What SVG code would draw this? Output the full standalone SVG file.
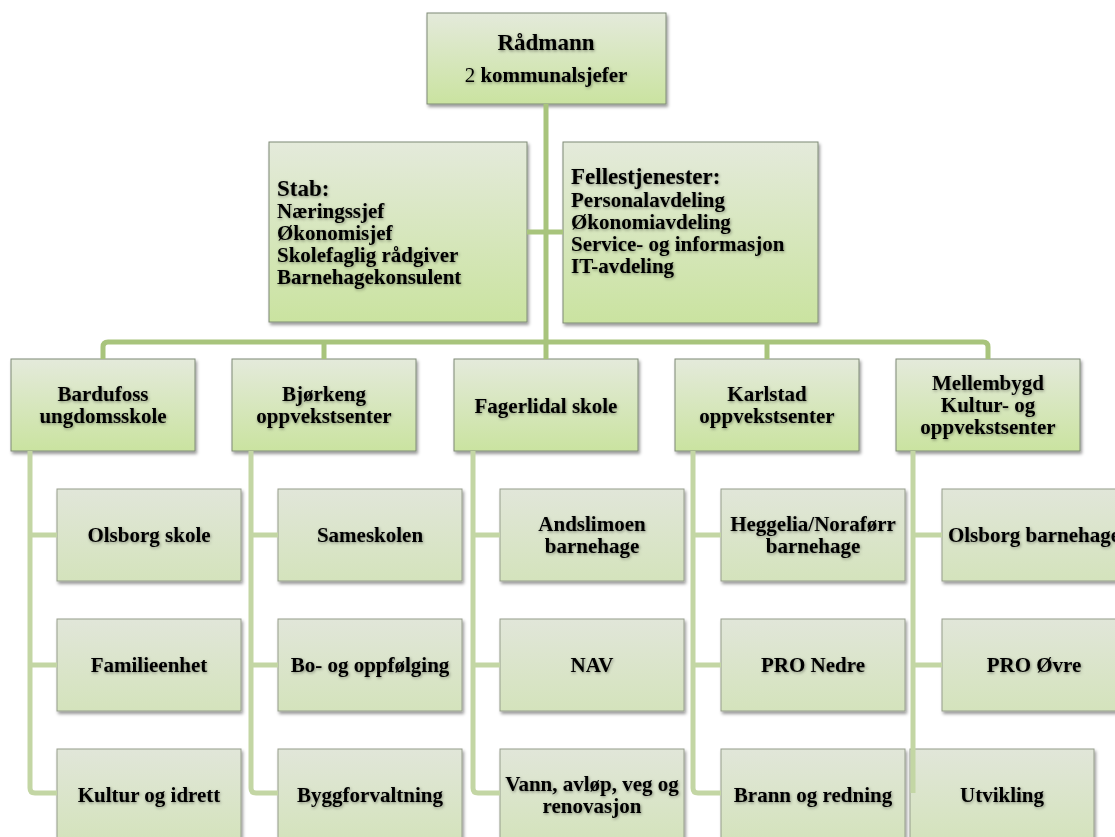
<svg xmlns="http://www.w3.org/2000/svg" width="1115" height="837" viewBox="0 0 1115 837">
<defs>
<linearGradient id="gH" x1="0" y1="0" x2="0" y2="1">
<stop offset="0" stop-color="#e4eadb"/>
<stop offset="1" stop-color="#cae3a0"/>
</linearGradient>
<linearGradient id="gC" x1="0" y1="0" x2="0" y2="1">
<stop offset="0" stop-color="#e1e6d9"/>
<stop offset="1" stop-color="#d4e3bc"/>
</linearGradient>
<filter id="sh" x="-10%" y="-10%" width="125%" height="130%">
<feDropShadow dx="1.5" dy="2.5" stdDeviation="1.8" flood-color="#000" flood-opacity="0.4"/>
</filter>
<filter id="ts" x="-5%" y="-20%" width="110%" height="150%">
<feDropShadow dx="0.8" dy="1.2" stdDeviation="1.4" flood-color="#000" flood-opacity="0.4"/>
</filter>
</defs>
<style>
.h rect{fill:url(#gH);stroke:#7f8a76;stroke-width:1;filter:url(#sh)}
.c rect{fill:url(#gC);stroke:#959d8c;stroke-width:1;filter:url(#sh)}
text{font-family:"Liberation Serif","Times New Roman",serif;font-weight:bold;font-size:21px;fill:#000;text-anchor:middle;filter:url(#ts)}
text.l{text-anchor:start}
.big{font-size:23px}
.n{font-weight:normal}
.bus{fill:none;stroke:#a8c47c;stroke-width:5}
.sub{fill:none;stroke:#c3d6a4;stroke-width:5}
</style>
<rect width="1115" height="837" fill="#fff"/>
<g id="nodes">
<g id="radmann" class="h"><rect x="427" y="13" width="239" height="91"/>
<text x="546" y="50" class="big">Rådmann</text>
<text x="546" y="82"><tspan class="n">2</tspan> kommunalsjefer</text></g>
<g id="stab" class="h"><rect x="269" y="142" width="258" height="180"/>
<text x="277" y="196" class="l big">Stab:</text>
<text x="277" y="218" class="l">Næringssjef</text>
<text x="277" y="240" class="l">Økonomisjef</text>
<text x="277" y="262" class="l">Skolefaglig rådgiver</text>
<text x="277" y="284" class="l">Barnehagekonsulent</text></g>
<g id="felles" class="h"><rect x="563" y="142" width="255" height="181"/>
<text x="571" y="184" class="l big">Fellestjenester:</text>
<text x="571" y="207" class="l">Personalavdeling</text>
<text x="571" y="229" class="l">Økonomiavdeling</text>
<text x="571" y="251" class="l">Service- og informasjon</text>
<text x="571" y="273" class="l">IT-avdeling</text></g>
<g id="bardufoss" class="h"><rect x="11" y="359" width="184" height="92"/>
<text x="103" y="401">Bardufoss</text><text x="103" y="423">ungdomsskole</text></g>
<g id="bjorkeng" class="h"><rect x="232" y="359" width="184" height="92"/>
<text x="324" y="401">Bjørkeng</text><text x="324" y="423">oppvekstsenter</text></g>
<g id="fagerlidal" class="h"><rect x="454" y="359" width="184" height="92"/>
<text x="546" y="413">Fagerlidal skole</text></g>
<g id="karlstad" class="h"><rect x="675" y="359" width="184" height="92"/>
<text x="767" y="401">Karlstad</text><text x="767" y="423">oppvekstsenter</text></g>
<g id="mellembygd" class="h"><rect x="896" y="359" width="184" height="92"/>
<text x="988" y="390">Mellembygd</text><text x="988" y="412">Kultur- og</text><text x="988" y="434">oppvekstsenter</text></g>

<g id="olsborg-skole" class="c"><rect x="57" y="489" width="184" height="92"/><text x="149" y="542">Olsborg skole</text></g>
<g id="familieenhet" class="c"><rect x="57" y="619" width="184" height="92"/><text x="149" y="672">Familieenhet</text></g>
<g id="kultur-idrett" class="c"><rect x="57" y="749" width="184" height="92"/><text x="149" y="802">Kultur og idrett</text></g>

<g id="sameskolen" class="c"><rect x="278" y="489" width="184" height="92"/><text x="370" y="542">Sameskolen</text></g>
<g id="bo-oppfolging" class="c"><rect x="278" y="619" width="184" height="92"/><text x="370" y="672">Bo- og oppfølging</text></g>
<g id="byggforvaltning" class="c"><rect x="278" y="749" width="184" height="92"/><text x="370" y="802">Byggforvaltning</text></g>

<g id="andslimoen" class="c"><rect x="500" y="489" width="184" height="92"/><text x="592" y="531">Andslimoen</text><text x="592" y="553">barnehage</text></g>
<g id="nav" class="c"><rect x="500" y="619" width="184" height="92"/><text x="592" y="672">NAV</text></g>
<g id="vann" class="c"><rect x="500" y="749" width="184" height="92"/><text x="592" y="791">Vann, avløp, veg og</text><text x="592" y="813">renovasjon</text></g>

<g id="heggelia" class="c"><rect x="721" y="489" width="184" height="92"/><text x="813" y="531">Heggelia/Noraførr</text><text x="813" y="553">barnehage</text></g>
<g id="pro-nedre" class="c"><rect x="721" y="619" width="184" height="92"/><text x="813" y="672">PRO Nedre</text></g>
<g id="brann" class="c"><rect x="721" y="749" width="184" height="92"/><text x="813" y="802">Brann og redning</text></g>

<g id="olsborg-barnehage" class="c"><rect x="942" y="489" width="184" height="92"/><text x="1034" y="542">Olsborg barnehage</text></g>
<g id="pro-ovre" class="c"><rect x="942" y="619" width="184" height="92"/><text x="1034" y="672">PRO Øvre</text></g>
<g id="utvikling" class="c"><rect x="910" y="749" width="184" height="92"/><text x="1002" y="802">Utvikling</text></g>
</g>
<g id="connectors">
<path class="bus" d="M546,104 V342"/>
<path class="bus" d="M527,232 H563"/>
<path class="bus" d="M103,359 V347 Q103,342 108,342 H983 Q988,342 988,347 V359"/>
<path class="bus" d="M324,342 V359 M546,342 V359 M767,342 V359"/>
<path class="sub" d="M30,451 V788 Q30,793 35,793 H57 M30,535 H57 M30,665 H57"/>
<path class="sub" d="M251,451 V788 Q251,793 256,793 H278 M251,535 H278 M251,665 H278"/>
<path class="sub" d="M473,451 V788 Q473,793 478,793 H500 M473,535 H500 M473,665 H500"/>
<path class="sub" d="M693,451 V788 Q693,793 698,793 H721 M693,535 H721 M693,665 H721"/>
<path class="sub" d="M913,451 V793 M913,535 H942 M913,665 H942"/>
</g>
</svg>
